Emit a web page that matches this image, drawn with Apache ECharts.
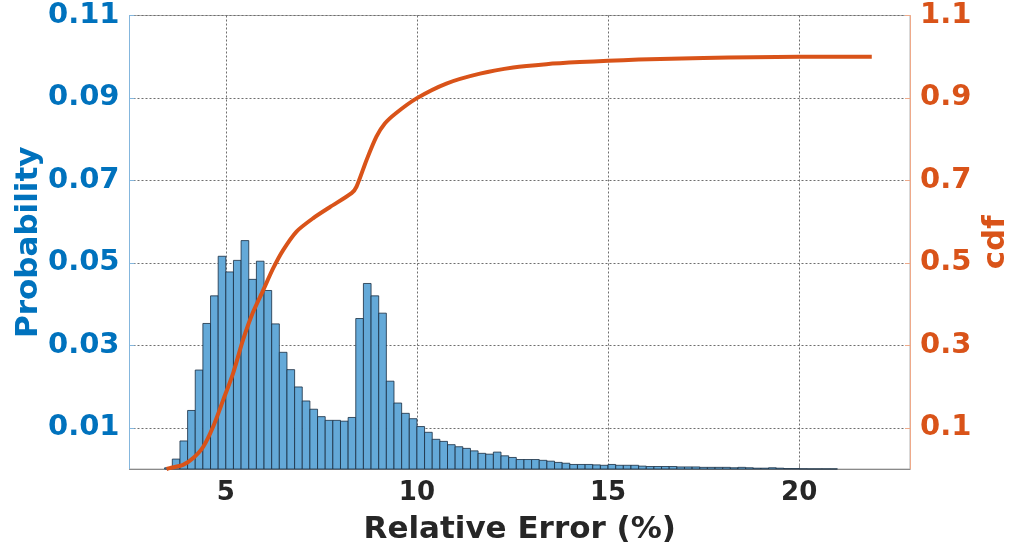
<!DOCTYPE html>
<html>
<head>
<meta charset="utf-8">
<title>Relative Error distribution</title>
<script src="https://cdn.jsdelivr.net/npm/echarts@6/dist/echarts.min.js"></script>
<style>
  html, body { margin: 0; padding: 0; background: #ffffff; }
  #chart { width: 1010px; height: 552px; }
</style>
</head>
<body>
<div id="chart"></div>
<script>
// Histogram bins (centre of each 0.2-wide bin, in % relative error)
const binCenters = [
  3.5, 3.7, 3.9, 4.1, 4.3, 4.5, 4.7, 4.9, 5.1, 5.3, 5.5, 5.7, 5.9, 6.1, 6.3, 6.5,
  6.7, 6.9, 7.1, 7.3, 7.5, 7.7, 7.9, 8.1, 8.3, 8.5, 8.7, 8.9, 9.1, 9.3, 9.5, 9.7,
  9.9, 10.1, 10.3, 10.5, 10.7, 10.9, 11.1, 11.3, 11.5, 11.7, 11.9, 12.1, 12.3, 12.5,
  12.7, 12.9, 13.1, 13.3, 13.5, 13.7, 13.9, 14.1, 14.3, 14.5, 14.7, 14.9, 15.1, 15.3,
  15.5, 15.7, 15.9, 16.1, 16.3, 16.5, 16.7, 16.9, 17.1, 17.3, 17.5, 17.7, 17.9, 18.1,
  18.3, 18.5, 18.7, 18.9, 19.1, 19.3, 19.5, 19.7, 19.9, 20.1, 20.3, 20.5, 20.7, 20.9
];
const binWidth = 0.2;

// Probability of each bin
const probability = [
  0.0003, 0.0024, 0.0068, 0.0142, 0.0240, 0.0353, 0.0420, 0.0516, 0.0478, 0.0506, 0.0554, 0.0460, 0.0504, 0.0433, 0.0352, 0.0283,
  0.0241, 0.0199, 0.0165, 0.0145, 0.0127, 0.0118, 0.0118, 0.0116, 0.0125, 0.0365, 0.0450, 0.0420, 0.0378, 0.0213, 0.0160, 0.0135,
  0.0122, 0.0103, 0.0089, 0.0072, 0.0067, 0.0059, 0.0054, 0.0050, 0.0044, 0.0038, 0.0036, 0.0041, 0.0032, 0.0028,
  0.0023, 0.0023, 0.0023, 0.0021, 0.0019, 0.0016, 0.0014, 0.0011, 0.0011, 0.0011, 0.0010, 0.0009, 0.0011, 0.0009,
  0.0009, 0.0009, 0.0007, 0.0006, 0.0006, 0.0006, 0.0006, 0.0005, 0.0005, 0.0005, 0.0004, 0.0004, 0.0004, 0.0004,
  0.0003, 0.0004, 0.0003, 0.0002, 0.0002, 0.0003, 0.0002, 0.0001, 0.0001, 0.00005, 0.00003, 0.00003, 0.00003, 0.00003
];

// Cumulative distribution curve
const cdfX = [
  3.45, 3.53, 3.88, 4.14, 4.41, 4.67, 4.93, 5.19, 5.45, 5.71, 5.98, 6.24, 6.50, 6.85,
  7.28, 7.72, 8.29, 8.42, 8.68, 8.94, 9.16, 9.45, 9.99, 10.77, 11.65, 12.52, 13.39,
  14.26, 15.0, 15.8, 17.5, 18.8, 20.0, 21.9
];
const cdfY = [
  0.000, 0.002, 0.010, 0.026, 0.054, 0.103, 0.167, 0.232, 0.313, 0.380, 0.434, 0.487, 0.531, 0.576,
  0.608, 0.635, 0.669, 0.685, 0.749, 0.806, 0.838, 0.863, 0.899, 0.935, 0.959, 0.974, 0.982,
  0.987, 0.990, 0.993, 0.997, 0.999, 1.000, 1.000
];

// Tick values
const xTicks = [5, 10, 15, 20];
const probTicks = [0.01, 0.03, 0.05, 0.07, 0.09, 0.11];
const cdfTicks = [0.1, 0.3, 0.5, 0.7, 0.9, 1.1];

const BLUE = '#0072BD';
const ORANGE = '#D95319';
const FONT = 'DejaVu Sans';

const histData = binCenters.map((c, i) => [c, probability[i]]);
const cdfData = cdfX.map((x, i) => [x, cdfY[i]]);

const chart = echarts.init(document.getElementById('chart'), null, { renderer: 'canvas' });

chart.setOption({
  animation: false,
  backgroundColor: '#ffffff',
  grid: {
    left: 129.5, right: 100, top: 15.5, bottom: 83,
    outerBoundsMode: 'none',
    containLabel: false,
    show: true, borderColor: '#b3b3b3', borderWidth: 1, backgroundColor: 'transparent'
  },
  xAxis: {
    type: 'value',
    min: 2.48, max: 22.9,
    name: 'Relative Error (%)',
    nameLocation: 'middle',
    nameGap: 61,
    nameMoveOverlap: false,
    nameTextStyle: { fontFamily: FONT, fontWeight: 'bold', fontSize: 31, color: '#262626', verticalAlign: 'middle' },
    axisLine: { show: true, onZero: false, lineStyle: { color: '#8a8a8a', width: 1 } },
    axisTick: { show: true, inside: true, length: 5, customValues: xTicks, lineStyle: { color: '#8a8a8a' } },
    axisLabel: {
      customValues: xTicks, margin: 11,
      fontFamily: FONT, fontWeight: 'bold', fontSize: 26, color: '#262626'
    },
    splitLine: { show: true, lineStyle: { color: '#6e6e6e', type: [2, 2], width: 1 } }
  },
  yAxis: [
    {
      type: 'value', position: 'left',
      min: 0, max: 0.11,
      name: 'Probability',
      nameLocation: 'middle', nameRotate: 90, nameGap: 101,
      nameMoveOverlap: false,
      nameTextStyle: { fontFamily: FONT, fontWeight: 'bold', fontSize: 31, color: BLUE, verticalAlign: 'middle' },
      axisLine: { show: true, lineStyle: { color: '#84b6dd', width: 1 } },
      axisTick: { show: true, inside: true, length: 5, customValues: probTicks, lineStyle: { color: '#84b6dd' } },
      axisLabel: {
        customValues: probTicks, margin: 10,
        formatter: v => v.toFixed(2),
        fontFamily: FONT, fontWeight: 'bold', fontSize: 29, color: BLUE
      },
      splitLine: { show: true, lineStyle: { color: '#6e6e6e', type: [2, 2], width: 1 } }
    },
    {
      type: 'value', position: 'right',
      min: 0, max: 1.1,
      name: 'cdf',
      nameLocation: 'middle', nameRotate: 90, nameGap: 86,
      nameMoveOverlap: false,
      nameTextStyle: { fontFamily: FONT, fontWeight: 'bold', fontSize: 31, color: ORANGE, verticalAlign: 'middle' },
      axisLine: { show: true, lineStyle: { color: '#eeaa8a', width: 1 } },
      axisTick: { show: true, inside: true, length: 5, customValues: cdfTicks, lineStyle: { color: '#eeaa8a' } },
      axisLabel: {
        customValues: cdfTicks, margin: 10,
        formatter: v => v.toFixed(1),
        fontFamily: FONT, fontWeight: 'bold', fontSize: 29, color: ORANGE
      },
      splitLine: { show: false }
    }
  ],
  series: [
    {
      name: 'Probability',
      type: 'custom',
      xAxisIndex: 0, yAxisIndex: 0,
      data: histData,
      encode: { x: 0, y: 1 },
      z: 2,
      renderItem: function (params, api) {
        const c = api.value(0);
        const v = api.value(1);
        const topLeft = api.coord([c - binWidth / 2, v]);
        const bottomRight = api.coord([c + binWidth / 2, 0]);
        return {
          type: 'rect',
          shape: {
            x: topLeft[0], y: topLeft[1],
            width: bottomRight[0] - topLeft[0],
            height: bottomRight[1] - topLeft[1]
          },
          style: { fill: '#64a9d8', stroke: 'rgba(25,45,65,0.8)', lineWidth: 1 }
        };
      }
    },
    {
      name: 'cdf',
      type: 'line',
      xAxisIndex: 0, yAxisIndex: 1,
      data: cdfData,
      showSymbol: false,
      smooth: 0.25,
      z: 3,
      lineStyle: { color: ORANGE, width: 4 }
    }
  ]
});
</script>
</body>
</html>
